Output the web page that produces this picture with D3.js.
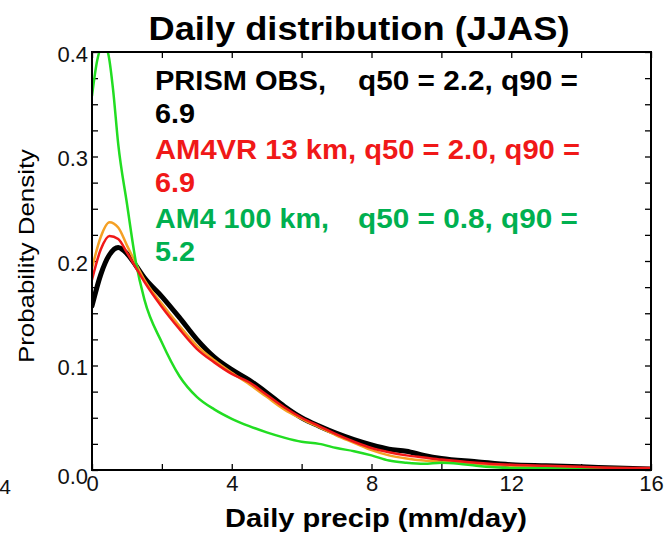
<!DOCTYPE html>
<html>

<head>
    <meta charset="utf-8">
    <title>Daily distribution (JJAS)</title>
    <script type="text/javascript" src="https://cdn.jsdelivr.net/npm/d3@7"></script>
    <style type="text/css">
        body {
            margin: 0;
            background: #fff;
        }

        svg text {
            font-family: "Liberation Sans", Arial, Helvetica, sans-serif;
        }

        .axis path {
            display: none;
        }

        .axis line {
            stroke: #000;
            stroke-width: 1.3px;
        }

        .axis text {
            font-size: 22px;
            fill: #111;
        }

        path.pdf {
            fill: none;
            stroke-linejoin: round;
            stroke-linecap: round;
        }
    </style>
</head>

<body>

    <script type="text/javascript">
        // precip bins (mm/day)
        var precip = [0, 0.25, 0.5, 0.75, 1, 1.25, 1.5, 2, 2.5, 3, 3.5, 4, 4.5, 5, 5.5, 6, 6.5, 7,
            7.5, 8, 8.5, 9, 9.5, 10, 11, 12, 13, 14, 15, 16];

        var prismObs = [0.157, 0.187, 0.206, 0.213, 0.207, 0.196, 0.184, 0.166, 0.146, 0.125, 0.108,
            0.096, 0.086, 0.074, 0.061, 0.050, 0.042, 0.035, 0.029, 0.024, 0.020, 0.018, 0.014,
            0.011, 0.008, 0.005, 0.004, 0.003, 0.002, 0.001];

        var am4vr13 = [0.182, 0.211, 0.224, 0.221, 0.208, 0.194, 0.180, 0.156, 0.135, 0.116, 0.103,
            0.092, 0.084, 0.072, 0.060, 0.050, 0.042, 0.034, 0.027, 0.021, 0.017, 0.014, 0.012,
            0.010, 0.007, 0.005, 0.004, 0.003, 0.002, 0.002];

        var am4vrOrange = [0.193, 0.223, 0.237, 0.232, 0.215, 0.198, 0.182, 0.159, 0.138, 0.119,
            0.105, 0.093, 0.082, 0.070, 0.058, 0.049, 0.041, 0.033, 0.026, 0.019, 0.014, 0.011,
            0.009, 0.008, 0.006, 0.004, 0.003, 0.002, 0.002, 0.001];

        var greenPrecip = [0, 0.15, 0.3, 0.45, 0.6, 0.75, 1, 1.25, 1.5, 2, 2.5, 3, 3.5, 4, 4.5, 5,
            5.5, 6, 6.5, 7, 7.5, 8, 8.5, 9, 9.5, 10, 10.5, 11, 12, 13, 14, 15.6];
        var am4100 = [0.358, 0.392, 0.406, 0.400, 0.365, 0.312, 0.255, 0.200, 0.163, 0.122, 0.090,
            0.070, 0.058, 0.049, 0.042, 0.036, 0.031, 0.027, 0.025, 0.021, 0.018, 0.014, 0.009,
            0.007, 0.006, 0.007, 0.006, 0.004, 0.002, 0.002, 0.001, 0.001];

        var xTicks = [0, 2, 4, 6, 8, 10, 12, 14, 16];
        var yTicks = d3.range(0, 0.401, 0.025);

        var legendLines = [
            ["PRISM OBS,", "q50 = 2.2, q90 =", "6.9"],
            ["AM4VR 13 km,", "q50 = 2.0, q90 =", "6.9"],
            ["AM4 100 km,", "q50 = 0.8, q90 =", "5.2"]
        ];
        var legendColors = ["#000000", "#f01818", "#00b050"];

        var width = 669,
            height = 537,
            margins = {
                top: 52,
                left: 92,
                right: 18,
                bottom: 67
            };

        var svg = d3.select("body").append("svg")
            .attr("width", width)
            .attr("height", height);

        var innerW = width - margins.left - margins.right,
            innerH = height - margins.top - margins.bottom;

        var x = d3.scaleLinear().domain([0, 16]).range([0, innerW]);
        var y = d3.scaleLinear().domain([0, 0.4]).range([innerH, 0]);

        var bodyG = svg.append("g")
            .attr("transform", "translate(" + margins.left + "," + margins.top + ")");

        bodyG.append("clipPath").attr("id", "plot-clip")
            .append("rect")
            .attr("width", innerW)
            .attr("height", innerH);

        function isMajor(v, step) {
            return Math.abs(v / step - Math.round(v / step)) < 1e-6;
        }

        // axes, ticks drawn inward
        bodyG.append("g").attr("class", "axis")
            .attr("transform", "translate(0," + innerH + ")")
            .call(d3.axisBottom(x).tickValues(xTicks).tickSize(-6).tickPadding(5)
                .tickFormat(function (d) { return isMajor(d, 4) ? d : ""; }));

        bodyG.append("g").attr("class", "axis")
            .call(d3.axisTop(x).tickValues(xTicks).tickSize(-6).tickFormat(""));

        var yAxis = bodyG.append("g").attr("class", "axis")
            .call(d3.axisLeft(y).tickValues(yTicks).tickSize(-6).tickPadding(4)
                .tickFormat(function (d) { return isMajor(d, 0.1) ? d3.format(".1f")(d) : ""; }));
        yAxis.selectAll("text").attr("dy", "0.42em");
        yAxis.selectAll("text").filter(function (d) { return d === 0; }).attr("dy", "0.62em");

        bodyG.append("g").attr("class", "axis")
            .attr("transform", "translate(" + innerW + ",0)")
            .call(d3.axisRight(y).tickValues(yTicks).tickSize(-6).tickFormat(""));

        // curves
        var series = [
            { xs: precip, ys: prismObs, color: "#000000", w: 5 },
            { xs: precip, ys: am4vrOrange, color: "#f5a024", w: 2.5 },
            { xs: greenPrecip, ys: am4100, color: "#22dd22", w: 2.5 },
            { xs: precip, ys: am4vr13, color: "#f01818", w: 2.5 }
        ];

        var line = d3.line()
            .x(function (d) { return x(d[0]); })
            .y(function (d) { return y(d[1]); })
            .curve(d3.curveMonotoneX);

        bodyG.append("g").attr("clip-path", "url(#plot-clip)")
            .selectAll("path.pdf")
            .data(series)
            .enter().append("path")
            .attr("class", "pdf")
            .attr("stroke", function (d) { return d.color; })
            .attr("stroke-width", function (d) { return d.w; })
            .attr("d", function (d) {
                return line(d3.zip(d.xs, d.ys));
            });

        // frame
        bodyG.append("rect")
            .attr("width", innerW)
            .attr("height", innerH)
            .attr("fill", "none")
            .attr("stroke", "#000")
            .attr("stroke-width", 2);

        // legend text
        var legend = bodyG.append("g")
            .attr("font-weight", "bold")
            .attr("font-size", 27);

        legendLines.forEach(function (l, i) {
            var base = 38 + i * 69;
            var color = legendColors[i];
            if (i === 1) {
                legend.append("text")
                    .attr("x", 63).attr("y", base)
                    .attr("fill", color)
                    .attr("textLength", 425).attr("lengthAdjust", "spacingAndGlyphs")
                    .text(l[0] + " " + l[1]);
            } else {
                legend.append("text")
                    .attr("x", 63).attr("y", base)
                    .attr("fill", color)
                    .attr("textLength", i === 0 ? 171 : 174).attr("lengthAdjust", "spacingAndGlyphs")
                    .text(l[0]);
                legend.append("text")
                    .attr("x", 266).attr("y", base)
                    .attr("fill", color)
                    .attr("textLength", 220).attr("lengthAdjust", "spacingAndGlyphs")
                    .text(l[1]);
            }
            legend.append("text")
                .attr("x", 63).attr("y", base + 33)
                .attr("fill", color)
                .attr("textLength", 40).attr("lengthAdjust", "spacingAndGlyphs")
                .text(l[2]);
        });

        // titles
        svg.append("text")
            .attr("x", 359).attr("y", 40)
            .attr("text-anchor", "middle")
            .attr("font-size", 33).attr("font-weight", "bold")
            .attr("textLength", 421).attr("lengthAdjust", "spacingAndGlyphs")
            .text("Daily distribution (JJAS)");

        svg.append("text")
            .attr("x", 376).attr("y", 527)
            .attr("text-anchor", "middle")
            .attr("font-size", 25).attr("font-weight", "bold")
            .attr("textLength", 302).attr("lengthAdjust", "spacingAndGlyphs")
            .text("Daily precip (mm/day)");

        svg.append("text")
            .attr("transform", "translate(34,256) rotate(-90)")
            .attr("text-anchor", "middle")
            .attr("font-size", 22)
            .attr("textLength", 214).attr("lengthAdjust", "spacingAndGlyphs")
            .text("Probability Density");

        // stray tick label from the neighbouring panel
        svg.append("text")
            .attr("x", 11).attr("y", 494)
            .attr("text-anchor", "end")
            .attr("font-size", 21)
            .attr("fill", "#111")
            .text("4");
    </script>

</body>

</html>
